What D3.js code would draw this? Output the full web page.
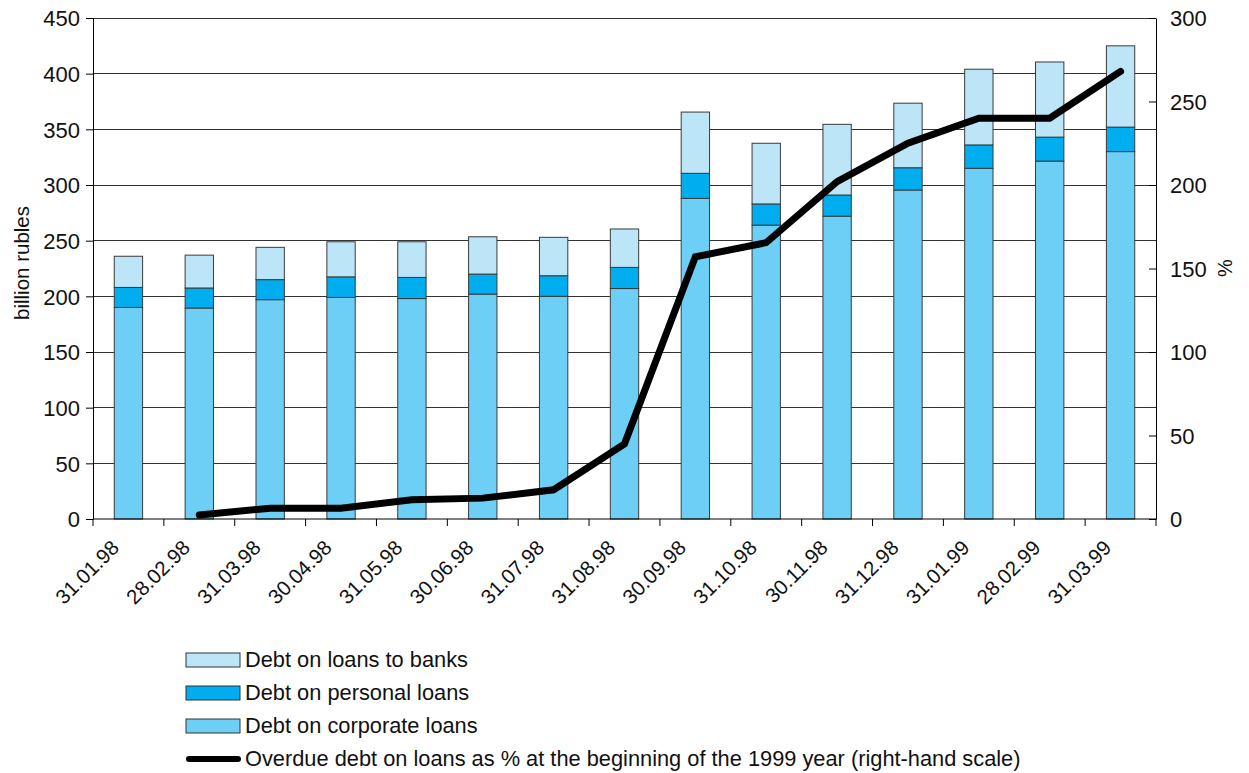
<!DOCTYPE html>
<html><head><meta charset="utf-8">
<script src="https://cdn.jsdelivr.net/npm/d3@7"></script>
<style>body{margin:0;background:#fff}svg{font-family:"Liberation Sans",Arial,sans-serif}</style>
</head><body><svg id="c" width="1249" height="773"></svg>
<script>
const categories = ["31.01.98","28.02.98","31.03.98","30.04.98","31.05.98","30.06.98","31.07.98","31.08.98","30.09.98","31.10.98","30.11.98","31.12.98","31.01.99","28.02.99","31.03.99"];
const corporate = [190,189.5,197,199,198,202,200,207,288,264,272,295.5,315,321.5,330];
const personal  = [18,18,18,18.5,19,18,18.5,19,22.5,19,19,20,21,21.5,22];
const banks     = [28,29.5,29,31.5,32,33.5,34.5,34.5,55,54.5,63.5,58,68,67.5,73];
const overdue   = [null,2.4,6.5,6.5,11.5,12.5,17.5,45,157,165.5,202,225,240,240,268];
const leftTicks = [0,50,100,150,200,250,300,350,400,450];
const rightTicks = [0,50,100,150,200,250,300];
const seriesNames = ["Debt on loans to banks","Debt on personal loans","Debt on corporate loans","Overdue debt on loans as % at the beginning of the 1999 year (right-hand scale)"];
const colors = {corporate:"#6dcff6", personal:"#00adef", banks:"#bde5f8"};

const svg = d3.select("#c");
const L=93, R=1156, T=18, B=519;
const x = d3.scaleBand().domain(categories).range([L,R]).paddingInner(0.6).paddingOuter(0.3);
const xb = d3.scaleBand().domain(categories).range([L,R]);
const yL = d3.scaleLinear().domain([0,450]).range([B,T]);
const yR = d3.scaleLinear().domain([0,300]).range([B,T]);
const cx = c => x(c)+x.bandwidth()/2;

// grid
svg.append("g").selectAll("line").data(leftTicks.slice(1)).join("line")
  .attr("x1",L).attr("x2",R).attr("y1",d=>yL(d)).attr("y2",d=>yL(d))
  .attr("stroke","#333").attr("stroke-width",1).attr("shape-rendering","crispEdges");

// stacked bars
const rows = categories.map((c,i)=>({cat:c, corporate:corporate[i], personal:personal[i], banks:banks[i]}));
const stack = d3.stack().keys(["corporate","personal","banks"])(rows);
svg.append("g").selectAll("g").data(stack).join("g")
  .attr("fill",d=>colors[d.key])
  .selectAll("rect").data(d=>d).join("rect")
  .attr("x",d=>x(d.data.cat)).attr("width",x.bandwidth())
  .attr("y",d=>yL(d[1])).attr("height",d=>yL(d[0])-yL(d[1]))
  .attr("stroke","#3a3a3a").attr("stroke-width",1);

// axes
const gl = svg.append("g").attr("transform",`translate(${L},0)`)
  .call(d3.axisLeft(yL).tickValues(leftTicks).tickSize(7).tickPadding(6));
const gr = svg.append("g").attr("transform",`translate(${R},0)`)
  .call(d3.axisRight(yR).tickValues(rightTicks).tickSize(0).tickPadding(14));
gr.selectAll(".tick").append("line").attr("x1",-7).attr("x2",0).attr("stroke","#000");
svg.append("line").attr("x1",L).attr("x2",R).attr("y1",B).attr("y2",B).attr("stroke","#000");
svg.append("g").selectAll("line").data(categories.concat(["end"])).join("line")
  .attr("x1",(d,i)=>L+i*xb.step()).attr("x2",(d,i)=>L+i*xb.step())
  .attr("y1",B).attr("y2",B+7).attr("stroke","#000");
[gl,gr].forEach(g=>{g.select(".domain").attr("stroke","#000");
  g.selectAll("text").attr("font-size",22).attr("fill","#111").attr("dy","0.35em").attr("font-family","Liberation Sans, Arial, sans-serif");});
svg.append("g").selectAll("text").data(categories).join("text")
  .attr("transform",d=>`translate(${cx(d)-8},${B+30}) rotate(-45)`)
  .attr("text-anchor","end").attr("font-size",20.5).attr("fill","#111").text(d=>d);

// line
const line = d3.line().defined(d=>d!=null).x((d,i)=>cx(categories[i])).y(d=>yR(d));
svg.append("path").datum(overdue).attr("d",line).attr("fill","none")
  .attr("stroke","#000").attr("stroke-width",7).attr("stroke-linecap","round").attr("stroke-linejoin","miter");

// titles
svg.append("text").attr("transform","translate(29,263) rotate(-90)").attr("text-anchor","middle")
  .attr("font-size",20.5).attr("fill","#111").text("billion rubles");
svg.append("text").attr("transform","translate(1232,268) rotate(-90)").attr("text-anchor","middle")
  .attr("font-size",20).attr("fill","#111").text("%");

// legend
const leg = svg.append("g");
const legRows=[{n:seriesNames[0],c:colors.banks},{n:seriesNames[1],c:colors.personal},{n:seriesNames[2],c:colors.corporate},{n:seriesNames[3],line:true}];
legRows.forEach((r,i)=>{
  const yy=660+i*33;
  if(r.line){leg.append("line").attr("x1",189).attr("x2",238).attr("y1",yy).attr("y2",yy).attr("stroke","#000").attr("stroke-width",6).attr("stroke-linecap","round");}
  else leg.append("rect").attr("x",186).attr("y",yy-7).attr("width",54).attr("height",14).attr("fill",r.c).attr("stroke","#333");
  leg.append("text").attr("x",245).attr("y",yy+7).attr("font-size",21.8).attr("fill","#111").text(r.n);
});
</script></body></html>
